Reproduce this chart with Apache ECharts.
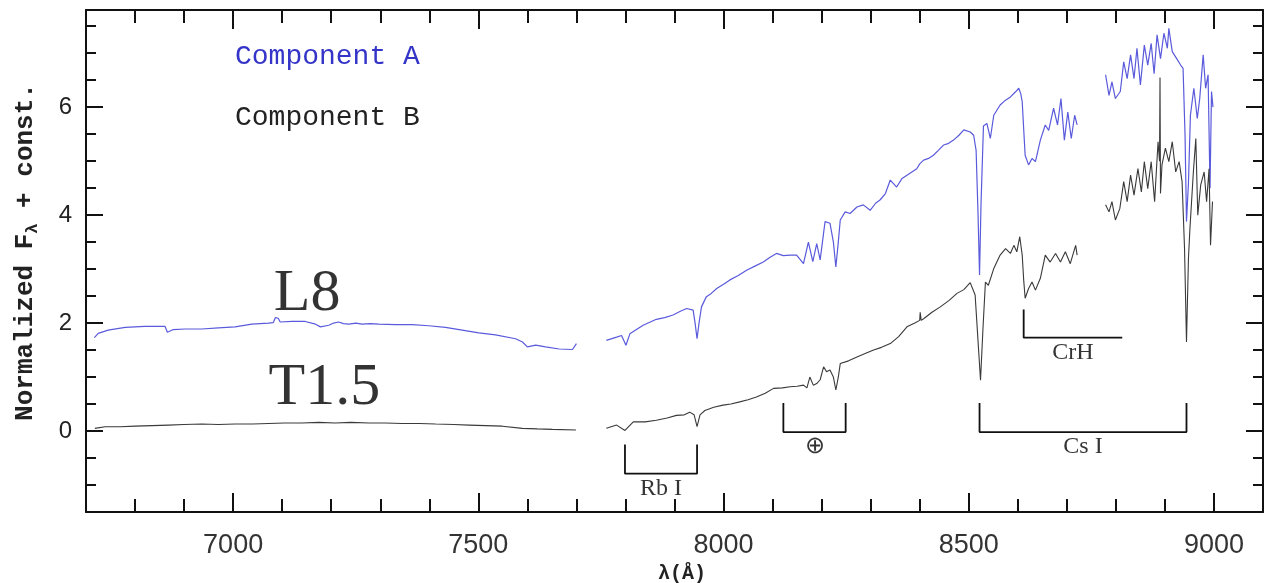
<!DOCTYPE html>
<html>
<head>
<meta charset="utf-8">
<script src="https://cdn.jsdelivr.net/npm/echarts@6/dist/echarts.min.js"></script>
<style>
html,body{margin:0;padding:0;background:#fff;}
#chart{width:1268px;height:583px;}
</style>
</head>
<body>
<div id="chart"></div>
<script>
// ---- Spectra: [wavelength (Å), normalized flux + const] ----
const compA_seg1 = [[6717,1.73],[6725,1.81],[6745,1.87],[6780,1.92],[6820,1.94],[6861,1.94],[6866,1.83],[6870,1.82],[6878,1.88],[6902,1.89],[6936,1.89],[6970,1.91],[7004,1.93],[7038,1.98],[7072,2.00],[7082,2.01],[7086,2.10],[7092,2.09],[7096,2.02],[7120,2.03],[7147,2.03],[7168,1.98],[7178,1.93],[7195,1.96],[7205,2.00],[7215,2.02],[7225,1.99],[7236,1.98],[7250,2.00],[7263,1.98],[7280,1.99],[7297,1.98],[7331,1.97],[7365,1.97],[7399,1.95],[7433,1.92],[7467,1.87],[7501,1.82],[7535,1.78],[7576,1.71],[7590,1.65],[7600,1.56],[7617,1.59],[7637,1.56],[7665,1.52],[7692,1.51],[7700,1.62]];
const compA_seg2 = [[7761,1.68],[7782,1.74],[7792,1.77],[7801,1.59],[7809,1.80],[7836,1.96],[7863,2.07],[7880,2.10],[7897,2.15],[7912,2.22],[7925,2.27],[7938,2.24],[7942,2.00],[7946,1.71],[7950,2.00],[7955,2.30],[7965,2.49],[7975,2.55],[7986,2.64],[8000,2.72],[8013,2.80],[8030,2.88],[8047,2.98],[8065,3.06],[8081,3.13],[8095,3.22],[8108,3.29],[8122,3.25],[8136,3.26],[8149,3.26],[8163,3.10],[8173,3.50],[8182,3.14],[8190,3.47],[8197,3.17],[8207,3.88],[8217,3.85],[8224,3.50],[8229,3.04],[8234,3.50],[8238,3.91],[8248,4.06],[8258,4.03],[8272,4.15],[8285,4.19],[8299,4.09],[8310,4.22],[8319,4.28],[8330,4.40],[8340,4.65],[8353,4.52],[8364,4.68],[8374,4.74],[8384,4.80],[8394,4.86],[8400,4.95],[8408,5.02],[8418,5.05],[8428,5.11],[8438,5.20],[8449,5.30],[8459,5.33],[8469,5.39],[8480,5.48],[8490,5.58],[8503,5.54],[8510,5.48],[8515,5.20],[8519,4.00],[8522,2.89],[8525,4.20],[8530,5.65],[8537,5.70],[8544,5.42],[8551,5.85],[8564,6.04],[8575,6.13],[8585,6.19],[8595,6.28],[8602,6.35],[8606,6.25],[8609,6.10],[8612,5.60],[8615,5.11],[8622,4.93],[8629,5.05],[8636,4.99],[8646,5.39],[8656,5.67],[8663,5.57],[8673,5.98],[8681,5.67],[8688,6.16],[8695,5.39],[8702,5.91],[8709,5.42],[8716,5.85],[8721,5.67]];
const compA_seg3 = [[8779,6.60],[8786,6.22],[8792,6.47],[8799,6.16],[8809,6.29],[8816,6.84],[8823,6.53],[8830,6.97],[8837,6.53],[8843,7.09],[8850,6.41],[8858,7.15],[8865,6.78],[8872,7.18],[8878,6.62],[8884,7.34],[8891,6.90],[8898,7.37],[8905,7.09],[8908,7.46],[8915,7.03],[8924,6.90],[8932,6.78],[8937,6.72],[8941,5.50],[8944,3.88],[8948,4.60],[8952,5.85],[8959,6.35],[8966,5.79],[8971,6.16],[8978,6.97],[8983,6.35],[8988,6.60],[8992,4.50],[8995,6.29],[8998,6.00]];

const compB_seg1 = [[6718,0.05],[6739,0.08],[6770,0.08],[6800,0.09],[6835,0.10],[6868,0.11],[6900,0.12],[6936,0.13],[6970,0.12],[7004,0.13],[7040,0.13],[7072,0.14],[7105,0.15],[7140,0.15],[7175,0.16],[7208,0.15],[7240,0.16],[7277,0.15],[7310,0.15],[7345,0.14],[7380,0.14],[7413,0.13],[7450,0.12],[7481,0.11],[7515,0.10],[7549,0.09],[7590,0.05],[7620,0.04],[7651,0.03],[7699,0.02]];
const compB_seg2 = [[7761,0.05],[7782,0.11],[7799,0.01],[7816,0.17],[7840,0.17],[7863,0.20],[7885,0.24],[7904,0.29],[7920,0.30],[7931,0.35],[7940,0.30],[7946,0.08],[7952,0.30],[7962,0.38],[7980,0.44],[7999,0.48],[8015,0.50],[8033,0.54],[8050,0.58],[8067,0.63],[8085,0.70],[8102,0.79],[8120,0.80],[8136,0.82],[8150,0.83],[8163,0.85],[8170,0.80],[8176,1.00],[8183,0.85],[8190,0.88],[8197,0.95],[8204,1.19],[8210,1.10],[8217,1.13],[8224,1.00],[8229,0.76],[8234,1.00],[8238,1.25],[8255,1.30],[8272,1.37],[8290,1.44],[8306,1.50],[8322,1.55],[8340,1.62],[8357,1.75],[8374,1.93],[8390,2.00],[8400,2.05],[8401,2.20],[8403,2.05],[8408,2.08],[8425,2.20],[8442,2.30],[8460,2.42],[8476,2.55],[8490,2.62],[8503,2.75],[8513,2.52],[8518,1.80],[8524,0.94],[8529,1.90],[8534,2.76],[8540,2.70],[8551,3.01],[8564,3.26],[8575,3.38],[8585,3.29],[8592,3.44],[8598,3.32],[8604,3.60],[8609,3.26],[8612,2.80],[8615,2.46],[8622,2.64],[8629,2.76],[8636,2.61],[8646,2.83],[8656,3.26],[8666,3.13],[8677,3.29],[8687,3.13],[8697,3.32],[8707,3.10],[8718,3.44],[8721,3.26]];
const compB_seg3 = [[8779,4.19],[8786,4.06],[8792,4.25],[8799,3.91],[8808,4.12],[8816,4.62],[8823,4.25],[8830,4.74],[8837,4.37],[8845,4.86],[8852,4.43],[8858,4.99],[8865,4.49],[8872,4.99],[8879,4.25],[8886,5.36],[8889,5.00],[8890,6.55],[8891,4.40],[8894,4.93],[8901,5.24],[8908,4.99],[8915,5.36],[8922,4.80],[8929,4.99],[8935,4.62],[8940,3.38],[8944,1.65],[8948,3.20],[8951,3.75],[8958,4.80],[8963,5.42],[8967,4.00],[8973,4.56],[8980,4.80],[8985,4.25],[8990,4.86],[8993,3.44],[8997,4.25]];

// ---- Axis ticks / labels ----
const xTickLabels = [7000, 7500, 8000, 8500, 9000];
const xMinorTicks = [6800, 6900, 7100, 7200, 7300, 7400, 7600, 7700, 7800, 7900, 8100, 8200, 8300, 8400, 8600, 8700, 8800, 8900];
const yTickLabels = [0, 2, 4, 6];
const yMinorTicks = [-1, -0.5, 0.5, 1, 1.5, 2.5, 3, 3.5, 4.5, 5, 5.5, 6.5, 7, 7.5];

// ---- Feature brackets (data units) ----
const featureNames = ['Rb I', '\u2295', 'Cs I', 'CrH'];
const featureLeft = [7799, 8122, 8522, 8612];
const featureRight = [7946, 8249, 8944, 8813];
const featureTopLeft = [-0.25, 0.52, 0.52, 2.25];
const featureTopRight = [-0.25, 0.52, 0.52, 1.73];
const featureBase = [-0.79, -0.02, -0.02, 1.73];

// ---- Spectral type annotations ----
const annotationText = ['L8', 'T1.5'];
const annotationX = [7151, 7186];
const annotationY = [2.54, 0.79];

const GAP = '-';
function joinSegments(segs) {
  const out = [];
  segs.forEach((s, i) => {
    if (i > 0) out.push([ (segs[i-1][segs[i-1].length-1][0] + s[0][0]) / 2, GAP ]);
    s.forEach(p => out.push(p));
  });
  return out;
}

const X_MIN = 6700, X_MAX = 9100, Y_MIN = -1.5, Y_MAX = 7.8;
const AXIS_COLOR = '#111';

function xAxis(position, values, len, showLine, labels) {
  return {
    type: 'value', position: position, min: X_MIN, max: X_MAX,
    axisLine: { show: showLine, onZero: false, lineStyle: { color: AXIS_COLOR, width: 2 } },
    axisTick: { show: true, inside: true, length: len, customValues: values, lineStyle: { color: AXIS_COLOR, width: 2 } },
    axisLabel: labels ? { show: true, customValues: xTickLabels, formatter: v => String(v), fontSize: 27, color: '#333', margin: 20, fontFamily: 'Liberation Sans' } : { show: false },
    splitLine: { show: false }
  };
}
function yAxis(position, values, len, showLine, labels) {
  return {
    type: 'value', position: position, min: Y_MIN, max: Y_MAX,
    axisLine: { show: showLine, onZero: false, lineStyle: { color: AXIS_COLOR, width: 2 } },
    axisTick: { show: true, inside: true, length: len, customValues: values, lineStyle: { color: AXIS_COLOR, width: 2 } },
    axisLabel: labels ? { show: true, customValues: yTickLabels, formatter: v => String(v), fontSize: 24, color: '#222', margin: 14, fontFamily: 'Liberation Sans' } : { show: false },
    splitLine: { show: false }
  };
}

const xAxes = [
  xAxis('bottom', xTickLabels, 19, true, true),
  xAxis('bottom', xMinorTicks, 13, false, false),
  xAxis('top', xTickLabels, 19, true, false),
  xAxis('top', xMinorTicks, 13, false, false)
];
Object.assign(xAxes[0], {
  name: '\u03bb(\u00c5)', nameLocation: 'middle', nameGap: 47,
  nameTextStyle: { fontFamily: 'Liberation Mono', fontWeight: 'bold', fontSize: 20, color: '#222', padding: [0, 0, 0, 15] }
});
const yAxes = [
  yAxis('left', yTickLabels, 17, true, true),
  yAxis('left', yMinorTicks, 10, false, false),
  yAxis('right', yTickLabels, 17, true, false),
  yAxis('right', yMinorTicks, 10, false, false)
];
Object.assign(yAxes[0], {
  name: 'Normalized F{sub|\u03bb} + const.', nameLocation: 'middle', nameGap: 45,
  nameTextStyle: {
    fontFamily: 'Liberation Mono', fontWeight: 'bold', fontSize: 26, color: '#222', lineHeight: 32,
    padding: [0, 0, 0, 18],
    rich: { sub: { fontFamily: 'Liberation Mono', fontWeight: 'bold', fontSize: 17, color: '#222', verticalAlign: 'bottom', lineHeight: 32 } }
  }
});

const bracketSeries = featureNames.map((nm, i) => ({
  type: 'line', name: 'feature-' + i, silent: true, symbol: 'none', z: 3,
  lineStyle: { color: '#111', width: 1.8 },
  data: [[featureLeft[i], featureTopLeft[i]], [featureLeft[i], featureBase[i]], [featureRight[i], featureBase[i]], [featureRight[i], featureTopRight[i]]]
}));

const featureLabelSeries = {
  type: 'scatter', name: 'feature-labels', silent: true, symbolSize: 0,
  data: featureNames.map((nm, i) => ({ value: [(featureLeft[i] + featureRight[i]) / 2, featureBase[i]], name: nm })),
  label: { show: true, position: 'bottom', distance: 3, formatter: p => p.name, fontFamily: 'Liberation Serif', fontSize: 24, color: '#000' }
};

const annotationSeries = {
  type: 'scatter', name: 'types', silent: true, symbolSize: 0,
  data: annotationText.map((t, i) => ({ value: [annotationX[i], annotationY[i]], name: t })),
  label: { show: true, position: 'inside', formatter: p => p.name, fontFamily: 'Liberation Serif', fontSize: 60, color: '#000' }
};

const chart = echarts.init(document.getElementById('chart'), null, { renderer: 'canvas' });
chart.setOption({
  animation: false,
  backgroundColor: '#fff',
  grid: { left: 86, right: 5, top: 10, bottom: 71, containLabel: false, outerBoundsMode: 'none' },
  legend: {
    data: [
      { name: 'Component A', textStyle: { color: '#3434c8' } },
      { name: 'Component B', textStyle: { color: '#222' } }
    ],
    orient: 'vertical', left: 225, top: 38, icon: 'none', itemWidth: 0, itemHeight: 28, itemGap: 33,
    selectedMode: false,
    textStyle: { fontFamily: 'Liberation Mono', fontSize: 28 }
  },
  xAxis: xAxes,
  yAxis: yAxes,
  series: [
    { type: 'line', name: 'Component A', data: joinSegments([compA_seg1, compA_seg2, compA_seg3]), showSymbol: false, symbol: 'none', connectNulls: false,
      lineStyle: { color: '#5a5adc', width: 1.2 }, itemStyle: { color: '#5a5adc' }, z: 2 },
    { type: 'line', name: 'Component B', data: joinSegments([compB_seg1, compB_seg2, compB_seg3]), showSymbol: false, symbol: 'none', connectNulls: false,
      lineStyle: { color: '#3a3a3a', width: 1.1 }, itemStyle: { color: '#3a3a3a' }, z: 2 },
    ...bracketSeries,
    featureLabelSeries,
    annotationSeries
  ]
});
</script>
</body>
</html>
